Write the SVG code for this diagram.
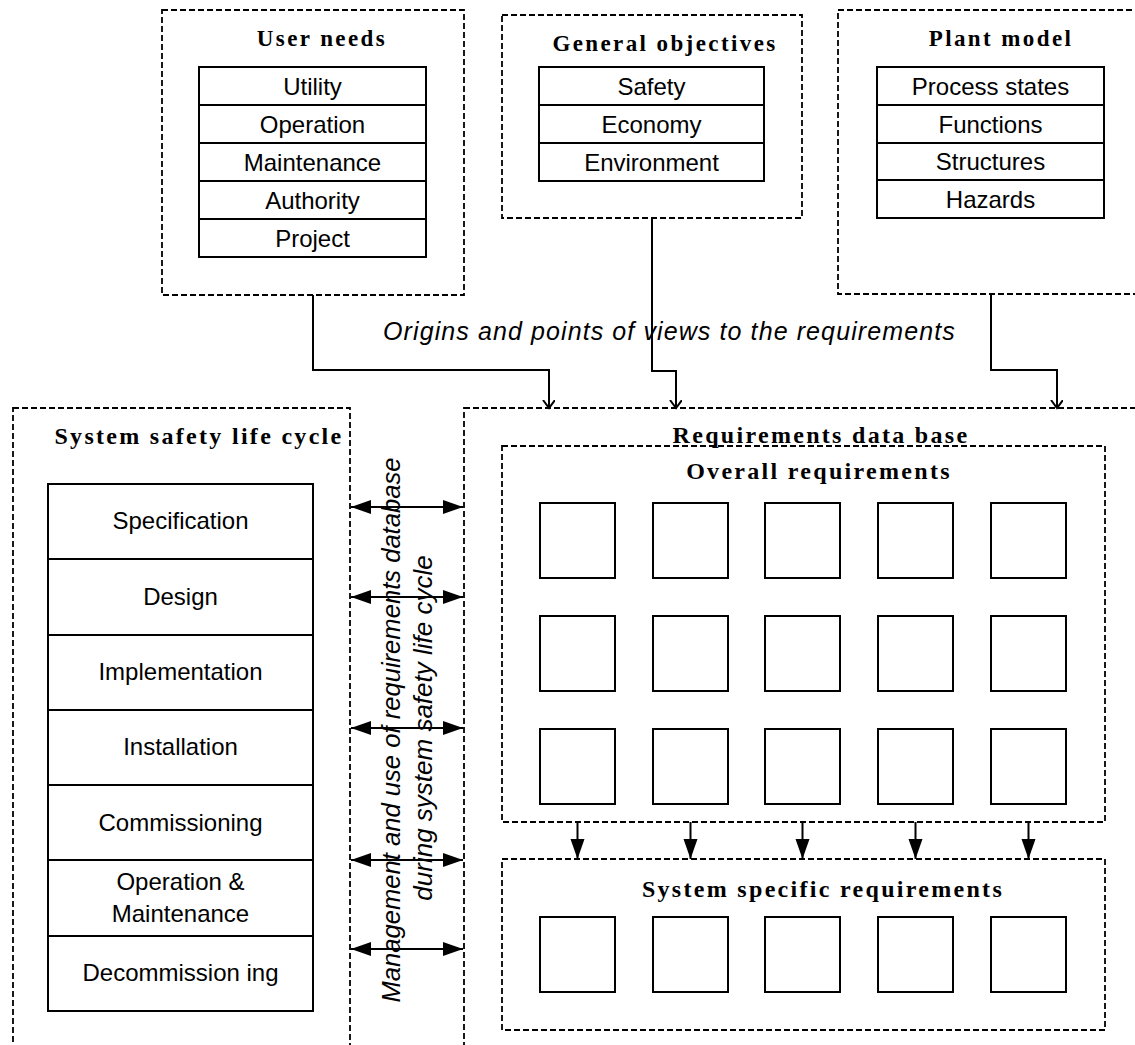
<svg xmlns="http://www.w3.org/2000/svg" width="1135" height="1045" viewBox="0 0 1135 1045">
<style>
  .dash{fill:none;stroke:#000;stroke-width:1.8;stroke-dasharray:6 3}
  .cell{fill:#fff;stroke:#000;stroke-width:2}
  .sq{fill:#fff;stroke:#000;stroke-width:2}
  .t{font-family:"Liberation Sans",Arial,sans-serif;font-size:24px;text-anchor:middle;fill:#000}
  .ti{font-family:"Liberation Serif","Times New Roman",serif;font-weight:bold;font-size:23px;letter-spacing:2.4px;text-anchor:middle;fill:#000}
  .ti2{font-family:"Liberation Serif","Times New Roman",serif;font-weight:bold;font-size:24px;letter-spacing:2.3px;text-anchor:middle;fill:#000}
  .it{font-family:"Liberation Sans",Arial,sans-serif;font-style:italic;fill:#000}
  .ln{fill:none;stroke:#000;stroke-width:2}
</style>
<defs>
  <marker id="fa" markerUnits="userSpaceOnUse" markerWidth="22" markerHeight="16" refX="20" refY="7" orient="auto-start-reverse">
    <path d="M0,0 L20,7 L0,14 Z" fill="#000"/>
  </marker>
  <marker id="oa" markerUnits="userSpaceOnUse" markerWidth="12" markerHeight="14" refX="8" refY="6" orient="auto">
    <path d="M0,0 L8,6 L0,12" fill="none" stroke="#000" stroke-width="2"/>
  </marker>
</defs>
<rect width="1135" height="1045" fill="#fff"/>

<g id="user-needs">
  <rect class="dash" x="162" y="10" width="302" height="285"/>
  <text class="ti" x="322" y="46">User needs</text>
  <rect class="cell" x="199" y="67" width="227" height="38"/>
  <rect class="cell" x="199" y="105" width="227" height="38"/>
  <rect class="cell" x="199" y="143" width="227" height="38"/>
  <rect class="cell" x="199" y="181" width="227" height="38"/>
  <rect class="cell" x="199" y="219" width="227" height="38"/>
  <text class="t" x="312.5" y="95">Utility</text>
  <text class="t" x="312.5" y="133">Operation</text>
  <text class="t" x="312.5" y="171">Maintenance</text>
  <text class="t" x="312.5" y="209">Authority</text>
  <text class="t" x="312.5" y="247">Project</text>
</g>

<g id="general-objectives">
  <rect class="dash" x="502" y="15" width="300" height="203"/>
  <text class="ti" x="665" y="51">General objectives</text>
  <rect class="cell" x="539" y="67" width="225" height="38"/>
  <rect class="cell" x="539" y="105" width="225" height="38"/>
  <rect class="cell" x="539" y="143" width="225" height="38"/>
  <text class="t" x="651.5" y="95">Safety</text>
  <text class="t" x="651.5" y="133">Economy</text>
  <text class="t" x="651.5" y="171">Environment</text>
</g>

<g id="plant-model">
  <rect class="dash" x="838" y="10" width="400" height="284"/>
  <text class="ti" x="1001" y="46">Plant model</text>
  <rect class="cell" x="877" y="67" width="227" height="38"/>
  <rect class="cell" x="877" y="105" width="227" height="38"/>
  <rect class="cell" x="877" y="143" width="227" height="37"/>
  <rect class="cell" x="877" y="180" width="227" height="38"/>
  <text class="t" x="990.5" y="95">Process states</text>
  <text class="t" x="990.5" y="133">Functions</text>
  <text class="t" x="990.5" y="170">Structures</text>
  <text class="t" x="990.5" y="208">Hazards</text>
</g>

<g id="origins-label">
  <text class="it" x="383" y="340" font-size="25" letter-spacing="1.1">Origins and points of views to the requirements</text>
</g>

<g id="life-cycle">
  <rect class="dash" x="13" y="408" width="337" height="700"/>
  <text class="ti2" x="199" y="444">System safety life cycle</text>
  <rect class="cell" x="48" y="484" width="265" height="75"/>
  <rect class="cell" x="48" y="559" width="265" height="76"/>
  <rect class="cell" x="48" y="635" width="265" height="75"/>
  <rect class="cell" x="48" y="710" width="265" height="75"/>
  <rect class="cell" x="48" y="785" width="265" height="75"/>
  <rect class="cell" x="48" y="860" width="265" height="76"/>
  <rect class="cell" x="48" y="936" width="265" height="75"/>
  <text class="t" x="180.5" y="529">Specification</text>
  <text class="t" x="180.5" y="605">Design</text>
  <text class="t" x="180.5" y="680">Implementation</text>
  <text class="t" x="180.5" y="755">Installation</text>
  <text class="t" x="180.5" y="831">Commissioning</text>
  <text class="t" x="180.5" y="890">Operation &amp;</text>
  <text class="t" x="180.5" y="922">Maintenance</text>
  <text class="t" x="180.5" y="981">Decommission ing</text>
</g>

<g id="management-label">
  <text class="it" transform="translate(400,730) rotate(-90)" text-anchor="middle" font-size="25.6">Management and use of requirements database</text>
  <text class="it" transform="translate(432,728) rotate(-90)" text-anchor="middle" font-size="26">during system safety life cycle</text>
</g>

<g id="requirements-db">
  <rect class="dash" x="464" y="408" width="700" height="700"/>
  <text class="ti2" x="821" y="443">Requirements data base</text>
</g>

<g id="overall-requirements">
  <rect class="dash" x="502" y="446" width="603" height="376"/>
  <text class="ti2" x="819" y="479">Overall requirements</text>
  <rect class="sq" x="540" y="503" width="75" height="75"/>
  <rect class="sq" x="653" y="503" width="75" height="75"/>
  <rect class="sq" x="765" y="503" width="75" height="75"/>
  <rect class="sq" x="878" y="503" width="75" height="75"/>
  <rect class="sq" x="991" y="503" width="75" height="75"/>
  <rect class="sq" x="540" y="616" width="75" height="75"/>
  <rect class="sq" x="653" y="616" width="75" height="75"/>
  <rect class="sq" x="765" y="616" width="75" height="75"/>
  <rect class="sq" x="878" y="616" width="75" height="75"/>
  <rect class="sq" x="991" y="616" width="75" height="75"/>
  <rect class="sq" x="540" y="729" width="75" height="75"/>
  <rect class="sq" x="653" y="729" width="75" height="75"/>
  <rect class="sq" x="765" y="729" width="75" height="75"/>
  <rect class="sq" x="878" y="729" width="75" height="75"/>
  <rect class="sq" x="991" y="729" width="75" height="75"/>
</g>

<g id="system-specific-requirements">
  <rect class="dash" x="502" y="859" width="603" height="171"/>
  <text class="ti2" x="823" y="897">System specific requirements</text>
  <rect class="sq" x="540" y="917" width="75" height="75"/>
  <rect class="sq" x="653" y="917" width="75" height="75"/>
  <rect class="sq" x="765" y="917" width="75" height="75"/>
  <rect class="sq" x="878" y="917" width="75" height="75"/>
  <rect class="sq" x="991" y="917" width="75" height="75"/>
</g>

<g id="connectors">
  <path class="ln" d="M313,295 V370 H549 V408" marker-end="url(#oa)"/>
  <path class="ln" d="M652,218 V371 H676 V408" marker-end="url(#oa)"/>
  <path class="ln" d="M991,294 V370 H1057 V408" marker-end="url(#oa)"/>
  <line class="ln" x1="577.5" y1="822" x2="577.5" y2="859" marker-end="url(#fa)"/>
  <line class="ln" x1="690.5" y1="822" x2="690.5" y2="859" marker-end="url(#fa)"/>
  <line class="ln" x1="802.5" y1="822" x2="802.5" y2="859" marker-end="url(#fa)"/>
  <line class="ln" x1="915.5" y1="822" x2="915.5" y2="859" marker-end="url(#fa)"/>
  <line class="ln" x1="1028.5" y1="822" x2="1028.5" y2="859" marker-end="url(#fa)"/>
  <line class="ln" x1="351" y1="507" x2="463" y2="507" marker-start="url(#fa)" marker-end="url(#fa)"/>
  <line class="ln" x1="351" y1="597" x2="463" y2="597" marker-start="url(#fa)" marker-end="url(#fa)"/>
  <line class="ln" x1="351" y1="728" x2="463" y2="728" marker-start="url(#fa)" marker-end="url(#fa)"/>
  <line class="ln" x1="351" y1="860" x2="463" y2="860" marker-start="url(#fa)" marker-end="url(#fa)"/>
  <line class="ln" x1="351" y1="949" x2="463" y2="949" marker-start="url(#fa)" marker-end="url(#fa)"/>
</g>
</svg>
